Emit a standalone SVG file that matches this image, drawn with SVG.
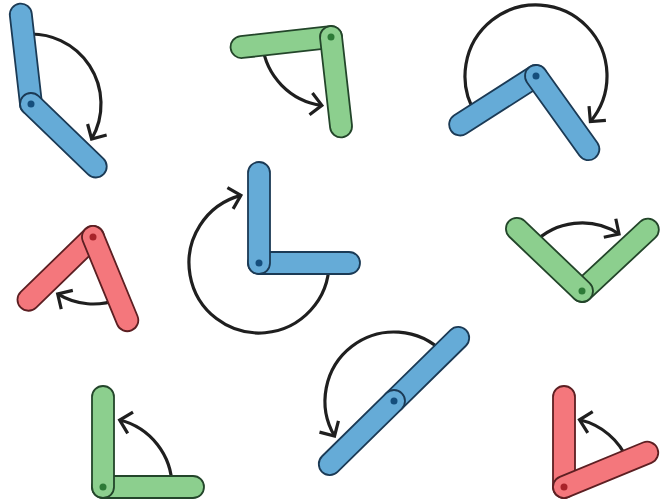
<svg xmlns="http://www.w3.org/2000/svg" width="665" height="502" viewBox="0 0 665 502">
<defs>
<style>
.arc{fill:none;stroke:#1f1f1f;stroke-width:3.2;}
.arm{stroke-width:1.8;}
.blue .arm{fill:#65abd7;stroke:#1b3a55;}
.blue .dot{fill:#154e7c;}
.green .arm{fill:#8ccf8e;stroke:#23452a;}
.green .dot{fill:#2d7a37;}
.red .arm{fill:#f4777c;stroke:#5c1f22;}
.red .dot{fill:#a8232a;}
</style>
<marker id="arr" markerUnits="userSpaceOnUse" viewBox="-16 -16 32 32" markerWidth="32" markerHeight="32" refX="0" refY="0" orient="auto" overflow="visible">
<path d="M-11 -11 L0 0 L-11 11" fill="none" stroke="#1f1f1f" stroke-width="3.2" stroke-linejoin="miter"/>
</marker>
</defs>
<rect width="665" height="502" fill="#ffffff"/>
<g id="connectors">
<path class="arc" marker-end="url(#arr)" transform="translate(31,104)" d="M-7.92,-69.55 A70,70 0 0 1 60.62,35"/>
<path class="arc" marker-end="url(#arr)" transform="translate(331,37)" d="M-68.57,7.69 A69,69 0 0 0 -9.13,68.39"/>
<path class="arc" marker-end="url(#arr)" transform="translate(536,76)" d="M-59.8,38.25 A71,71 0 1 1 54.39,45.64"/>
<path class="arc" marker-end="url(#arr)" transform="translate(93,237)" d="M25.53,61.94 A67,67 0 0 1 -35.31,56.94"/>
<path class="arc" marker-end="url(#arr)" transform="translate(259,263)" d="M70,0 A70,70 0 1 1 -18.12,-67.61"/>
<path class="arc" marker-end="url(#arr)" transform="translate(582,291)" d="M-49.16,-46.98 A68,68 0 0 1 37.03,-57.03"/>
<path class="arc" marker-end="url(#arr)" transform="translate(394,401)" d="M49.22,-48.36 A69,69 0 0 0 -59.45,35.02"/>
<path class="arc" marker-end="url(#arr)" transform="translate(103,487)" d="M69,0 A69,69 0 0 0 16.69,-66.95"/>
<path class="arc" marker-end="url(#arr)" transform="translate(564,487)" d="M63.79,-26.3 A69,69 0 0 0 15.52,-67.23"/>
</g>
<g id="angle1" class="blue" transform="translate(31,104)">
<rect class="arm" x="-11" y="-11" width="112" height="22" rx="11" transform="rotate(-96.5)"/>
<rect class="arm" x="-11" y="-11" width="112" height="22" rx="11" transform="rotate(44)"/>
<circle class="dot" r="3.5"/>
</g>
<g id="angle2" class="green" transform="translate(331,37)">
<rect class="arm" x="-11" y="-11" width="112" height="22" rx="11" transform="rotate(173.6)"/>
<rect class="arm" x="-11" y="-11" width="112" height="22" rx="11" transform="rotate(83.6)"/>
<circle class="dot" r="3.5"/>
</g>
<g id="angle3" class="blue" transform="translate(536,76)">
<rect class="arm" x="-11" y="-11" width="112" height="22" rx="11" transform="rotate(147.4)"/>
<rect class="arm" x="-11" y="-11" width="112" height="22" rx="11" transform="rotate(54.4)"/>
<circle class="dot" r="3.5"/>
</g>
<g id="angle4" class="red" transform="translate(93,237)">
<rect class="arm" x="-11" y="-11" width="112" height="22" rx="11" transform="rotate(135.8)"/>
<rect class="arm" x="-11" y="-11" width="112" height="22" rx="11" transform="rotate(67.6)"/>
<circle class="dot" r="3.5"/>
</g>
<g id="angle5" class="blue" transform="translate(259,263)">
<rect class="arm" x="-11" y="-11" width="112" height="22" rx="11" transform="rotate(0)"/>
<rect class="arm" x="-11" y="-11" width="112" height="22" rx="11" transform="rotate(-90)"/>
<circle class="dot" r="3.5"/>
</g>
<g id="angle6" class="green" transform="translate(582,291)">
<rect class="arm" x="-11" y="-11" width="112" height="22" rx="11" transform="rotate(-43)"/>
<rect class="arm" x="-11" y="-11" width="112" height="22" rx="11" transform="rotate(-136.3)"/>
<circle class="dot" r="3.5"/>
</g>
<g id="angle7" class="blue" transform="translate(394,401)">
<rect class="arm" x="-11" y="-11" width="112" height="22" rx="11" transform="rotate(-44.5)"/>
<rect class="arm" x="-11" y="-11" width="112" height="22" rx="11" transform="rotate(135.5)"/>
<circle class="dot" r="3.5"/>
</g>
<g id="angle8" class="green" transform="translate(103,487)">
<rect class="arm" x="-11" y="-11" width="112" height="22" rx="11" transform="rotate(0)"/>
<rect class="arm" x="-11" y="-11" width="112" height="22" rx="11" transform="rotate(-90)"/>
<circle class="dot" r="3.5"/>
</g>
<g id="angle9" class="red" transform="translate(564,487)">
<rect class="arm" x="-11" y="-11" width="112" height="22" rx="11" transform="rotate(-90)"/>
<rect class="arm" x="-11" y="-11" width="112" height="22" rx="11" transform="rotate(-22.4)"/>
<circle class="dot" r="3.5"/>
</g>
</svg>
